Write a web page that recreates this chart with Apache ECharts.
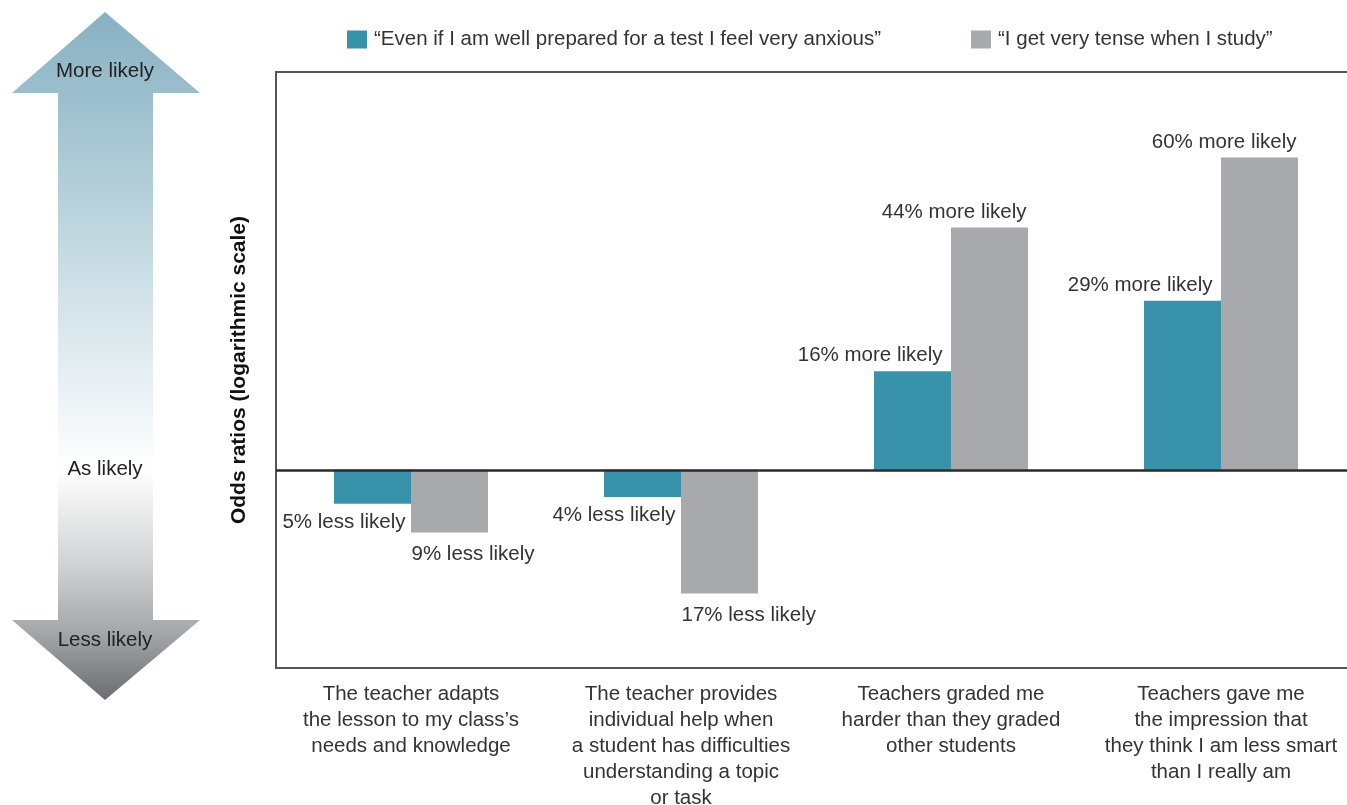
<!DOCTYPE html>
<html>
<head>
<meta charset="utf-8">
<style>html,body{margin:0;padding:0;background:#fff}#c{width:1347px;height:805px}</style>
<script src="https://cdn.jsdelivr.net/npm/echarts@6/dist/echarts.min.js"></script>
</head>
<body>
<div id="c"></div>
<script>
const categories = [
  'The teacher adapts\nthe lesson to my class’s\nneeds and knowledge',
  'The teacher provides\nindividual help when\na student has difficulties\nunderstanding a topic\nor task',
  'Teachers graded me\nharder than they graded\nother students',
  'Teachers gave me\nthe impression that\nthey think I am less smart\nthan I really am'
];
const seriesNames = ['“Even if I am well prepared for a test I feel very anxious”', '“I get very tense when I study”'];
const anxiousOdds = [0.95, 0.96, 1.16, 1.29];
const tenseOdds = [0.91, 0.83, 1.44, 1.60];
const anxiousLabels = ['5% less likely', '4% less likely', '16% more likely', '29% more likely'];
const tenseLabels = ['9% less likely', '17% less likely', '44% more likely', '60% more likely'];
const arrowTexts = ['More likely', 'As likely', 'Less likely'];
const yAxisTitle = 'Odds ratios (logarithmic scale)';

const FONT = '"Liberation Sans", Arial, sans-serif';
const TXT = '#333';
const FS = 20.5;

function items(vals, labels, first) {
  return vals.map((v, i) => {
    let lab;
    if (v >= 1) {
      lab = { position: 'top', align: 'right', offset: [first ? 30 : 37, 0], distance: 5 };
    } else {
      lab = first ? { position: 'bottom', align: 'right', offset: [33, -2], distance: 10 }
                  : { position: 'bottom', align: 'left', offset: [-38, 1], distance: 10 };
    }
    return { value: v, label: Object.assign({ show: true, formatter: labels[i], fontSize: FS, color: TXT, fontFamily: FONT }, lab) };
  });
}

const chart = echarts.init(document.getElementById('c'));
chart.setOption({
  animation: false,
  textStyle: { fontFamily: FONT },
  legend: {
    left: 342, top: 24, itemWidth: 20, itemHeight: 18, itemGap: 90, icon: 'rect',
    textStyle: { fontSize: FS, color: TXT, fontFamily: FONT, padding: [0, 0, 0, 2] }
  },
  grid: { left: 276, right: -9, top: 72, bottom: 137, show: true, borderColor: '#555', borderWidth: 2, backgroundColor: 'transparent', outerBoundsMode: 'none', containLabel: false },
  xAxis: {
    type: 'category', data: categories,
    axisLine: { show: false }, axisTick: { show: false },
    axisLabel: { interval: 0, fontSize: FS, lineHeight: 26, color: TXT, margin: 13, fontFamily: FONT, verticalAlign: 'top' }
  },
  yAxis: {
    type: 'log', logBase: 10, min: 0.742, max: 1.82,
    axisLine: { show: false }, axisTick: { show: false }, axisLabel: { show: false }, splitLine: { show: false },
    name: yAxisTitle, nameLocation: 'middle', nameGap: 26,
    nameTextStyle: { fontSize: 21, fontWeight: 'bold', color: '#111', fontFamily: FONT }
  },
  series: [
    { name: seriesNames[0], type: 'bar', barWidth: 77, barGap: '0%', itemStyle: { color: '#3893aa' },
      data: items(anxiousOdds, anxiousLabels, true),
      markLine: { silent: true, symbol: 'none', label: { show: false }, lineStyle: { color: '#2a2a2a', width: 2.5, type: 'solid' }, data: [{ yAxis: 1 }] } },
    { name: seriesNames[1], type: 'bar', barWidth: 77, barGap: '0%', itemStyle: { color: '#a8a9ad' },
      data: items(tenseOdds, tenseLabels, false) }
  ],
  graphic: [
    { type: 'polygon', z: -1,
      shape: { points: [[105, 12], [200, 93], [153, 93], [153, 620], [200, 620], [105, 700], [12, 620], [58, 620], [58, 93], [12, 93]] },
      style: { fill: new echarts.graphic.LinearGradient(0, 12, 0, 700, [
        { offset: 0, color: '#88b1c3' },
        { offset: 0.15, color: '#a0c2cf' },
        { offset: 0.4, color: '#cfe0e7' },
        { offset: 0.6, color: '#f3f7f9' },
        { offset: 0.666, color: '#ffffff' },
        { offset: 0.8, color: '#d2d3d5' },
        { offset: 0.9, color: '#a6a7aa' },
        { offset: 1, color: '#6b6c70' }
      ], true) } },
    { type: 'text', style: { text: arrowTexts[0], x: 105, y: 71, textAlign: 'center', textVerticalAlign: 'middle', fontSize: FS, fill: '#222', fontFamily: FONT } },
    { type: 'text', style: { text: arrowTexts[1], x: 105, y: 469, textAlign: 'center', textVerticalAlign: 'middle', fontSize: FS, fill: '#222', fontFamily: FONT } },
    { type: 'text', style: { text: arrowTexts[2], x: 105, y: 640, textAlign: 'center', textVerticalAlign: 'middle', fontSize: FS, fill: '#222', fontFamily: FONT } }
  ]
});
</script>
</body>
</html>
